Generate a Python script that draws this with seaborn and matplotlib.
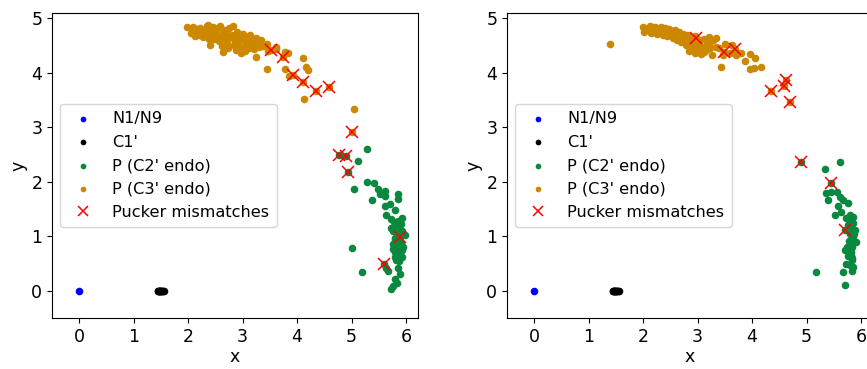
import matplotlib
matplotlib.use("Agg")
import matplotlib.pyplot as plt
import seaborn as sns
import pandas as pd

# ---------------- data ----------------
n_x = [0.0]
n_y = [0.0]
c1_x = [1.44, 1.45, 1.46, 1.47, 1.48, 1.49, 1.50, 1.51, 1.52, 1.53, 1.55]
c1_y = [0.0] * len(c1_x)

# left panel
L_c3_x = [1.97, 2.09, 2.06, 2.12, 2.15, 2.20, 2.22, 2.25, 2.28, 2.30, 2.33, 2.35, 2.36, 2.38, 2.40,
          2.41, 2.43, 2.45, 2.48, 2.50, 2.52, 2.55, 2.57, 2.58, 2.60, 2.62, 2.64, 2.65, 2.67, 2.70,
          2.72, 2.74, 2.75, 2.77, 2.80, 2.82, 2.84, 2.85, 2.87, 2.90, 2.92, 2.94, 2.95, 2.97, 3.00,
          3.02, 3.04, 3.05, 3.07, 3.10, 3.12, 3.14, 3.15, 3.18, 3.20, 3.22, 3.25, 3.25, 3.28, 3.30,
          3.33, 3.38, 3.44, 3.47, 3.53, 3.61, 3.62, 3.74, 3.77, 3.80, 3.83, 3.44, 3.77, 3.85, 3.93,
          4.10, 4.11, 4.17, 4.20, 4.12, 4.34, 4.59, 5.00, 5.04]
L_c3_y = [4.85, 4.85, 4.73, 4.67, 4.80, 4.70, 4.82, 4.76, 4.66, 4.80, 4.72, 4.86, 4.88, 4.62, 4.78,
          4.51, 4.70, 4.84, 4.62, 4.75, 4.66, 4.82, 4.58, 4.86, 4.70, 4.50, 4.39, 4.78, 4.62, 4.74,
          4.55, 4.46, 4.82, 4.66, 4.70, 4.87, 4.52, 4.62, 4.42, 4.76, 4.56, 4.66, 4.48, 4.36, 4.72,
          4.60, 4.50, 4.40, 4.66, 4.58, 4.46, 4.70, 4.54, 4.62, 4.44, 4.52, 4.64, 4.30, 4.56, 4.48,
          4.60, 4.50, 4.54, 4.40, 4.42, 4.48, 4.44, 4.30, 4.39, 4.36, 4.36, 4.08, 4.08, 3.94, 3.96,
          4.27, 3.84, 4.10, 4.05, 3.52, 3.66, 3.75, 2.91, 3.34]
L_c2_x = [4.77, 4.89, 4.93, 5.29, 5.12, 5.28, 5.04, 5.42, 5.48, 5.38, 5.53, 5.62, 5.62, 5.86, 5.86,
          5.61, 5.70, 5.79, 5.64, 5.92, 5.73, 5.83, 5.73, 5.86, 5.77, 5.92, 5.98, 5.80, 5.86, 5.95,
          5.77, 5.89, 5.80, 5.92, 5.00, 5.20, 5.67, 5.64, 5.86, 5.89, 5.80, 5.83, 5.77, 5.73, 5.60,
          5.89, 5.78, 5.82, 5.85, 5.88, 5.90, 5.84, 5.80, 5.87, 5.91, 5.83, 5.79, 5.85, 5.93, 5.88,
          5.82, 5.76, 5.90, 5.86]
L_c2_y = [2.50, 2.47, 2.18, 2.60, 2.38, 2.00, 1.87, 1.98, 1.86, 1.66, 1.77, 1.83, 1.74, 1.77, 1.68,
          1.55, 1.60, 1.49, 1.40, 1.34, 1.31, 1.24, 1.16, 1.13, 1.09, 1.09, 1.02, 0.93, 0.83, 0.80,
          0.77, 0.68, 0.62, 0.62, 0.78, 0.35, 0.36, 0.42, 0.42, 0.30, 0.21, 0.14, 0.09, 0.04, 0.49,
          0.98, 1.26, 1.20, 1.28, 1.18, 1.05, 1.00, 0.97, 0.90, 0.88, 0.80, 0.72, 0.70, 0.74, 0.55,
          0.56, 0.85, 1.22, 1.05]
L_mis_x = [3.53, 3.74, 3.93, 4.11, 4.34, 4.59, 5.00, 4.77, 4.89, 4.93, 5.89, 5.60]
L_mis_y = [4.42, 4.30, 3.96, 3.84, 3.66, 3.75, 2.91, 2.50, 2.47, 2.18, 0.98, 0.49]

# right panel
R_c3_x = [1.39, 1.99, 2.01, 2.05, 2.10, 2.13, 2.15, 2.19, 2.22, 2.25, 2.28, 2.30, 2.33, 2.36, 2.38,
          2.40, 2.43, 2.45, 2.48, 2.50, 2.53, 2.55, 2.58, 2.60, 2.63, 2.65, 2.68, 2.70, 2.73, 2.75,
          2.78, 2.80, 2.83, 2.85, 2.88, 2.90, 2.93, 2.95, 2.97, 3.00, 3.03, 3.04, 3.06, 3.09, 3.12,
          3.15, 3.18, 3.20, 3.23, 3.27, 3.28, 3.33, 3.34, 3.39, 3.43, 3.47, 3.49, 3.51, 3.59, 3.64,
          3.69, 3.71, 3.76, 3.80, 3.87, 3.97, 4.05, 3.97, 4.04, 4.16, 4.34, 4.58, 4.62, 4.69,
          2.85, 2.95, 3.05, 3.12, 3.20]
R_c3_y = [4.53, 4.85, 4.76, 4.80, 4.82, 4.87, 4.74, 4.78, 4.84, 4.72, 4.80, 4.76, 4.84, 4.70, 4.78,
          4.82, 4.68, 4.74, 4.80, 4.70, 4.76, 4.64, 4.78, 4.70, 4.60, 4.76, 4.68, 4.56, 4.72, 4.64,
          4.52, 4.70, 4.60, 4.48, 4.66, 4.56, 4.44, 4.68, 4.64, 4.52, 4.40, 4.60, 4.35, 4.48, 4.62,
          4.42, 4.56, 4.66, 4.46, 4.33, 4.60, 4.64, 4.48, 4.45, 4.10, 4.33, 4.38, 4.54, 4.36, 4.51,
          4.44, 4.33, 4.36, 4.36, 4.22, 4.34, 4.28, 4.07, 4.09, 4.10, 3.66, 3.76, 3.87, 3.47,
          4.40, 4.37, 4.44, 4.38, 4.52]
R_c2_x = [4.89, 5.44, 5.33, 5.62, 5.36, 5.39, 5.45, 5.55, 5.61, 5.67, 5.76, 5.52, 5.64, 5.73, 5.86,
          5.77, 5.83, 5.89, 5.80, 5.86, 5.81, 5.71, 5.81, 5.77, 5.83, 5.72, 5.80, 5.18, 5.67, 5.83,
          5.71, 5.71, 5.58, 5.79, 5.85, 5.88, 5.90, 5.84, 5.82, 5.78, 5.86, 5.80, 5.75, 5.84]
R_c2_y = [2.36, 1.98, 2.23, 2.36, 1.80, 1.67, 1.81, 1.81, 1.72, 1.66, 1.62, 1.40, 1.45, 1.33, 1.36,
          1.21, 1.15, 1.12, 1.04, 0.98, 0.86, 0.74, 0.71, 0.63, 0.57, 0.50, 0.47, 0.35, 0.35, 0.36,
          0.10, 1.12, 1.55, 1.28, 1.25, 1.05, 0.90, 0.80, 0.66, 0.92, 0.44, 1.40, 0.80, 0.60]
R_mis_x = [2.97, 3.49, 3.69, 4.34, 4.58, 4.62, 4.69, 4.89, 5.44, 5.71]
R_mis_y = [4.64, 4.38, 4.44, 3.66, 3.76, 3.87, 3.47, 2.36, 1.98, 1.12]

labels = ["N1/N9", "C1'", "P (C2' endo)", "P (C3' endo)", "Pucker mismatches"]
colors = ["#0000ff", "#000000", "#09893f", "#cc8800", "red"]
FS = 12.5

fig = plt.figure(figsize=(8.67, 3.69), dpi=100)
axL = fig.add_axes([52 / 867, 51 / 369, 366 / 867, 305 / 369])
axR = fig.add_axes([507 / 867, 51 / 369, 366 / 867, 305 / 369])


def panel(ax, c2x, c2y, c3x, c3y, mx, my):
    groups = [(n_x, n_y), (c1_x, c1_y), (c2x, c2y), (c3x, c3y)]
    for (gx, gy), lab, col in zip(groups, labels[:4], colors[:4]):
        df = pd.DataFrame({"x": gx, "y": gy})
        sns.scatterplot(data=df, x="x", y="y", color=col, s=30, linewidth=0,
                        label=lab, ax=ax, legend=False)
    ax.plot(mx, my, "x", color="red", markersize=9, markeredgewidth=1.1,
            label=labels[4], linestyle="none")
    ax.set_xlim(-0.5, 6.22)
    ax.set_ylim(-0.5, 5.1)
    ax.set_xticks([0, 1, 2, 3, 4, 5, 6])
    ax.set_yticks([0, 1, 2, 3, 4, 5])
    ax.tick_params(labelsize=FS)
    ax.set_xlabel("x", fontsize=FS, labelpad=2)
    ax.set_ylabel("y", fontsize=FS, labelpad=3)
    handles, labs = ax.get_legend_handles_labels()
    ax.legend(handles, labs, loc="center left", bbox_to_anchor=(0.0, 0.5),
              fontsize=11.6, markerscale=0.75, borderaxespad=0.5,
              labelspacing=0.52, borderpad=0.45)


panel(axL, L_c2_x, L_c2_y, L_c3_x, L_c3_y, L_mis_x, L_mis_y)
panel(axR, R_c2_x, R_c2_y, R_c3_x, R_c3_y, R_mis_x, R_mis_y)

fig.savefig("out.png", dpi=100)
